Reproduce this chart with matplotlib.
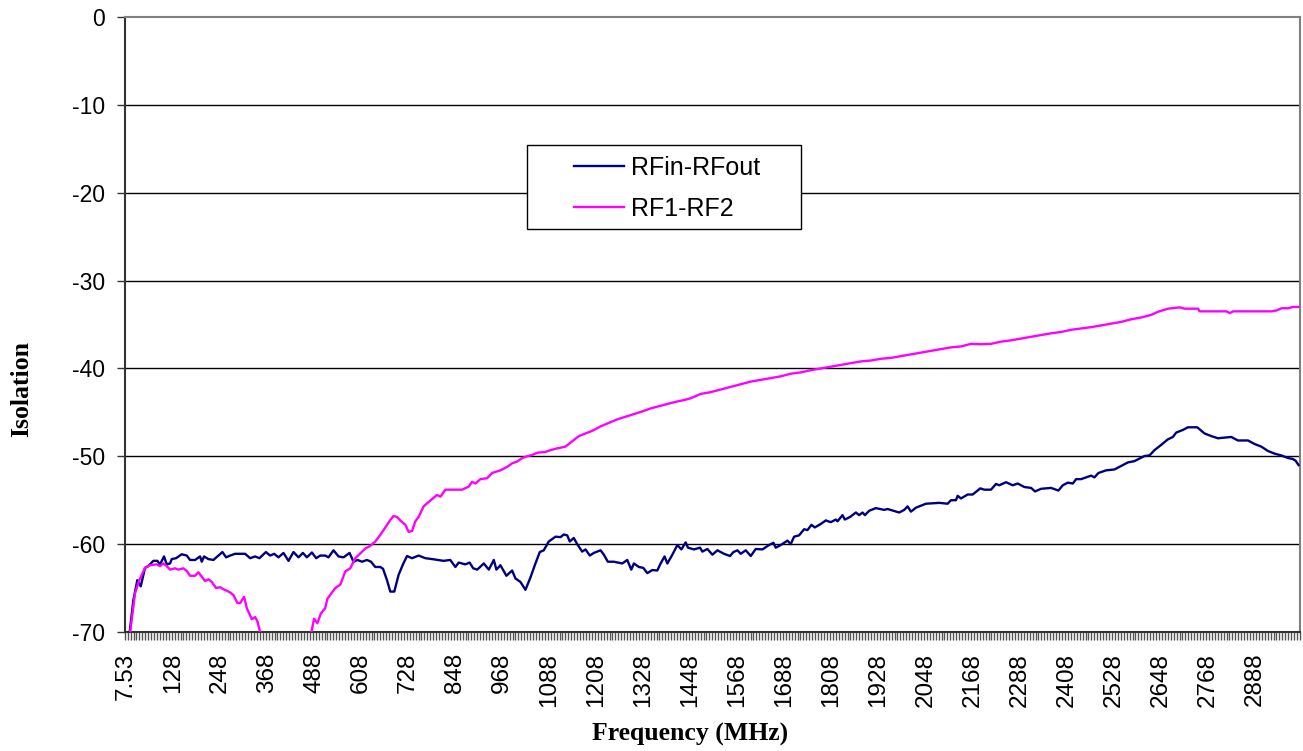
import numpy as np
import matplotlib
matplotlib.use("Agg")
import matplotlib.pyplot as plt
from matplotlib.patches import Rectangle

# Category axis: 400 frequency points (MHz)
freq_start = 7.53
freq_step = 7.5
n_points = 400
label_every = 16

# RFin-RFout series (frequency MHz, isolation dB)
blue_freq = [7.53, 15.0, 25.8, 36.0, 44.7, 55.6, 64.1, 76.9, 87.1, 94.0, 104.2, 111.1, 119.5, 123.9,
             134.9, 149.4, 162.2, 170.6, 183.4, 196.2, 200.5, 206.4, 217.4, 230.2, 243.0, 253.2,
             262.7, 272.9, 285.6, 311.2, 324.0, 336.7, 347.7, 364.1, 375.1, 385.3, 396.3, 409.1,
             421.9, 434.6, 447.4, 458.6, 468.8, 481.6, 492.6, 502.8, 515.6, 524.0, 536.8, 549.6,
             562.4, 577.7, 587.9, 598.1, 609.4, 622.2, 632.4, 643.4, 656.2, 663.1, 673.3, 681.7,
             691.9, 702.9, 714.1, 724.4, 737.2, 754.0, 771.2, 788.3, 817.7, 834.8, 847.9, 856.2,
             873.4, 884.2, 893.4, 903.6, 920.4, 933.2, 945.9, 952.6, 962.8, 978.1, 992.7, 1001.1,
             1013.9, 1026.7, 1039.4, 1052.2, 1063.3, 1073.4, 1086.2, 1103.4, 1116.1, 1124.6, 1133.3,
             1139.9, 1150.1, 1158.8, 1171.6, 1180.0, 1191.0, 1201.2, 1218.4, 1226.8, 1237.0, 1252.4,
             1273.8, 1286.6, 1296.8, 1303.5, 1316.3, 1327.5, 1337.7, 1350.5, 1363.3, 1371.7, 1381.9,
             1388.9, 1401.7, 1414.4, 1424.7, 1435.7, 1441.5, 1456.9, 1472.3, 1478.3, 1491.1, 1503.9,
             1516.7, 1533.6, 1548.9, 1557.6, 1567.8, 1576.2, 1589.0, 1601.8, 1614.5, 1631.7, 1648.5,
             1659.7, 1665.6, 1678.4, 1695.5, 1703.9, 1712.4, 1725.2, 1738.0, 1746.6, 1756.8, 1765.2,
             1780.6, 1793.4, 1806.1, 1818.9, 1823.3, 1836.0, 1841.9, 1855.5, 1870.1, 1878.5, 1887.2,
             1893.1, 1904.1, 1921.2, 1942.4, 1951.1, 1980.7, 1993.5, 2002.2, 2010.6, 2023.4, 2048.9,
             2082.9, 2104.4, 2112.8, 2125.6, 2129.9, 2138.4, 2155.5, 2168.3, 2187.7, 2197.9, 2215.0,
             2227.8, 2236.3, 2253.4, 2270.5, 2283.3, 2300.2, 2317.3, 2327.5, 2342.9, 2368.4, 2387.1,
             2398.3, 2411.1, 2423.9, 2432.3, 2445.1, 2470.7, 2479.1, 2489.3, 2509.0, 2530.2, 2547.3,
             2564.4, 2581.3, 2606.8, 2619.6, 2632.4, 2649.5, 2666.6, 2679.4, 2687.8, 2704.9, 2717.7,
             2741.4, 2760.1, 2777.2, 2794.3, 2828.3, 2845.4, 2871.0, 2887.8, 2904.9, 2922.1, 2939.0,
             2956.1, 2973.2, 2985.0, 2992.5, 3000.03]
blue_val = [-76.0, -70.6, -66.4, -64.1, -64.8, -62.7, -62.5, -61.9, -61.9, -62.3, -61.4, -62.3, -62.2, -61.7,
            -61.6, -61.15, -61.3, -61.8, -61.8, -61.4, -62.0, -61.4, -61.7, -61.8, -61.3, -60.9,
            -61.5, -61.3, -61.1, -61.1, -61.6, -61.4, -61.6, -60.9, -61.3, -61.1, -61.5, -61.0,
            -61.9, -60.9, -61.5, -61.0, -61.5, -60.95, -61.6, -61.3, -61.3, -61.5, -60.7, -61.4,
            -61.5, -61.0, -62.0, -61.8, -62.0, -61.8, -62.0, -62.6, -62.6, -62.8, -64.1, -65.4,
            -65.4, -63.5, -62.3, -61.35, -61.6, -61.3, -61.6, -61.7, -61.9, -61.8, -62.6, -62.1,
            -62.3, -62.1, -62.75, -62.9, -62.2, -62.9, -61.8, -62.9, -62.4, -63.6, -63.0, -63.9,
            -64.3, -65.2, -63.8, -62.2, -60.9, -60.7, -59.7, -59.15, -59.2, -58.9, -59.0,
            -59.7, -59.3, -60.0, -60.85, -60.6, -61.3, -61.0, -60.7, -61.2, -62.0, -62.0,
            -62.2, -61.8, -62.9, -62.2, -62.6, -62.7, -63.3, -62.95, -63.0, -62.2, -61.4,
            -62.2, -61.2, -60.1, -60.6, -59.8, -60.4, -60.6, -60.4, -60.85, -60.55, -61.2,
            -60.7, -61.1, -61.35, -60.9, -60.7, -61.1, -60.7, -61.35, -60.55, -60.6, -60.1,
            -59.85, -60.4, -60.1, -59.6, -60.0, -59.15, -59.0, -58.3, -58.4, -57.8, -58.1,
            -57.7, -57.3, -57.5, -57.2, -57.4, -56.7, -57.2, -56.9, -56.4, -56.7, -56.4,
            -56.7, -56.2, -55.9, -56.1, -56.0, -56.4, -56.1, -55.7, -56.3, -55.85, -55.4,
            -55.3, -55.4, -55.0, -55.0, -54.5, -54.8, -54.35, -54.35, -53.65, -53.8, -53.8,
            -53.15, -53.3, -52.95, -53.3, -53.1, -53.5, -53.6, -54.0, -53.7, -53.6, -53.9,
            -53.3, -53.0, -53.1, -52.6, -52.6, -52.2, -52.4, -51.9, -51.6, -51.5, -51.1,
            -50.7, -50.55, -49.97, -49.9, -49.3, -48.7, -48.07, -47.8, -47.3, -47.0, -46.7,
            -46.7, -47.4, -47.7, -47.95, -47.8, -48.2, -48.2, -48.6, -48.9, -49.4, -49.7,
            -49.9, -50.2, -50.3, -50.5, -51.0]

# RF1-RF2 series (frequency MHz, isolation dB)
pink_freq = [7.53, 15.0, 30.1, 41.1, 55.6, 68.4, 85.5, 94.0, 102.4, 111.1, 119.5, 132.3, 140.8, 153.5,
             162.2, 170.6, 183.4, 191.9, 200.5, 208.9, 217.4, 226.1, 237.1, 247.3, 254.2, 264.4,
             272.9, 281.3, 291.5, 298.4, 308.6, 315.5, 328.3, 336.7, 342.6, 349.5, 360.0, 420.0,
             475.0, 487.1, 495.6, 504.3, 515.3, 521.4, 541.3, 554.2, 566.9, 579.5, 592.3, 617.9,
             630.6, 643.4, 656.2, 673.3, 681.7, 690.1, 698.8, 707.3, 720.1, 728.5, 737.2, 745.7,
             754.0, 766.8, 779.6, 801.0, 809.5, 822.3, 865.0, 881.9, 890.5, 899.0, 911.7, 928.8,
             941.6, 962.8, 979.9, 992.7, 1005.5, 1018.3, 1031.0, 1043.8, 1056.6, 1077.8, 1090.6,
             1107.7, 1128.9, 1141.7, 1150.1, 1162.9, 1180.0, 1197.2, 1218.4, 1239.3, 1260.8,
             1282.0, 1303.5, 1324.6, 1346.1, 1367.3, 1388.9, 1410.1, 1431.5, 1448.3, 1473.9,
             1499.5, 1525.0, 1550.6, 1576.2, 1601.7, 1627.3, 1652.9, 1678.4, 1704.0, 1729.5,
             1755.1, 1780.7, 1806.2, 1831.8, 1857.4, 1882.9, 1908.5, 1934.0, 1959.6, 1985.2,
             2010.7, 2036.3, 2061.9, 2087.4, 2113.0, 2138.5, 2164.1, 2189.7, 2215.2, 2240.8,
             2266.4, 2291.9, 2317.5, 2343.0, 2368.6, 2394.2, 2419.7, 2445.3, 2470.9, 2496.4,
             2522.0, 2547.6, 2573.1, 2598.7, 2624.2, 2641.4, 2666.9, 2696.6, 2709.4, 2743.6,
             2747.7, 2815.9, 2824.4, 2833.1, 2931.0, 2943.8, 2956.5, 2975.0, 2985.0, 3000.03]
pink_val = [-77.0, -71.0, -65.6, -64.1, -62.7, -62.4, -62.3, -62.5, -62.2, -62.5, -62.9, -62.75, -62.9, -62.75,
            -63.05, -63.6, -63.6, -63.2, -63.7, -64.2, -64.0, -64.3, -65.0, -64.9, -65.1, -65.3,
            -65.5, -65.8, -66.7, -66.7, -66.0, -67.3, -68.55, -68.3, -68.8, -70.0, -71.5, -75.0,
            -71.2, -68.5, -69.0, -67.9, -67.3, -66.2, -65.0, -64.6, -63.1, -62.75, -61.6, -60.5,
            -60.2, -59.7, -58.95, -57.8, -57.25, -56.8, -56.9, -57.3, -57.8, -58.6, -58.5, -57.4,
            -56.9, -55.7, -55.2, -54.4, -54.6, -53.8, -53.8, -53.45, -52.9, -53.1, -52.6, -52.5,
            -51.9, -51.6, -51.2, -50.8, -50.6, -50.2, -50.0, -49.85, -49.6, -49.5, -49.3,
            -49.1, -48.9, -48.45, -48.15, -47.7, -47.4, -47.1, -46.6, -46.2, -45.8,
            -45.5, -45.2, -44.9, -44.55, -44.3, -44.05, -43.8, -43.6, -43.4, -42.9,
            -42.7, -42.4, -42.1, -41.8, -41.5, -41.3, -41.1, -40.9, -40.6, -40.45,
            -40.2, -40.0, -39.8, -39.6, -39.4, -39.2, -39.1, -38.9, -38.8, -38.6,
            -38.4, -38.2, -38.0, -37.8, -37.6, -37.5, -37.2, -37.25, -37.2, -36.95,
            -36.8, -36.6, -36.4, -36.2, -36.0, -35.85, -35.6, -35.45, -35.3, -35.1,
            -34.9, -34.7, -34.4, -34.2, -33.9, -33.55, -33.2, -33.05, -33.2, -33.2,
            -33.5, -33.5, -33.7, -33.5, -33.5, -33.4, -33.15, -33.15, -33.0, -33.0]

y_ticks = [0, -10, -20, -30, -40, -50, -60, -70]
series_names = ["RFin-RFout", "RF1-RF2"]
series_colors = ["#000080", "#FF00FF"]

freqs = freq_start + freq_step * np.arange(n_points)
label_pos = freqs[::label_every]
label_txt = ["7.53"] + [f"{f:.0f}" for f in label_pos[1:]]
boundaries = np.concatenate([freqs - freq_step / 2, [freqs[-1] + freq_step / 2]])

W, H = 1303, 751
fig = plt.figure(figsize=(W / 100, H / 100), dpi=100)
ax = fig.add_axes([124.7 / W, 1 - 632 / H, (1300 - 124.7) / W, (632 - 17) / H])

ax.plot(blue_freq, blue_val, color=series_colors[0], lw=1.7, label=series_names[0], zorder=3)
ax.plot(pink_freq, pink_val, color=series_colors[1], lw=1.7, label=series_names[1], zorder=3)

ax.set_xlim(boundaries[0], boundaries[-1])
ax.set_ylim(-70, 0)

ax.set_yticks(y_ticks)
ax.set_yticklabels([str(t) for t in y_ticks])
for t in y_ticks[1:-1]:
    ax.axhline(t, color="black", lw=1.0, zorder=1)

ax.set_xticks(label_pos)
ax.set_xticklabels(label_txt, rotation=90, fontsize=17.5, fontname="Liberation Sans")
ax.set_xticks(boundaries, minor=True)
ax.tick_params(axis="x", which="major", length=0, pad=15)
ax.tick_params(axis="x", which="minor", length=6, width=1.0, color="#555555", direction="out")
ax.tick_params(axis="y", which="major", length=6, width=1.0, color="#333333", direction="out", pad=8)
for lab in ax.get_yticklabels():
    lab.set_fontsize(16.5)
    lab.set_fontname("Liberation Sans")

for side in ["left", "bottom"]:
    ax.spines[side].set_color("#333333")
    ax.spines[side].set_linewidth(1.5)
for side in ["top", "right"]:
    ax.spines[side].set_color("#808080")
    ax.spines[side].set_linewidth(1.5)

fig.text(22 / W, 1 - 389 / H, "Isolation", rotation=90, ha="center", va="center",
         fontsize=18.5, fontweight="bold", fontname="Liberation Serif")
fig.text(690 / W, 1 - 734 / H, "Frequency (MHz)", ha="center", va="center",
         fontsize=18.5, fontweight="bold", fontname="Liberation Serif")

# Legend
frame = Rectangle((527 / W, 1 - 229 / H), (801 - 527) / W, (229 - 145) / H,
                  transform=fig.transFigure, facecolor="white", edgecolor="black",
                  lw=1.0, zorder=5, clip_on=False)
ax.add_patch(frame)
leg = ax.legend(loc="upper left", bbox_to_anchor=(574 / W, 1 - 156 / H),
                bbox_transform=fig.transFigure, frameon=False, borderpad=0,
                borderaxespad=0, handlelength=2.0, handletextpad=0.28, labelspacing=0.66,
                prop={"family": "Liberation Sans", "size": 18})
leg.set_zorder(6)

fig.savefig("out.png", dpi=100)
